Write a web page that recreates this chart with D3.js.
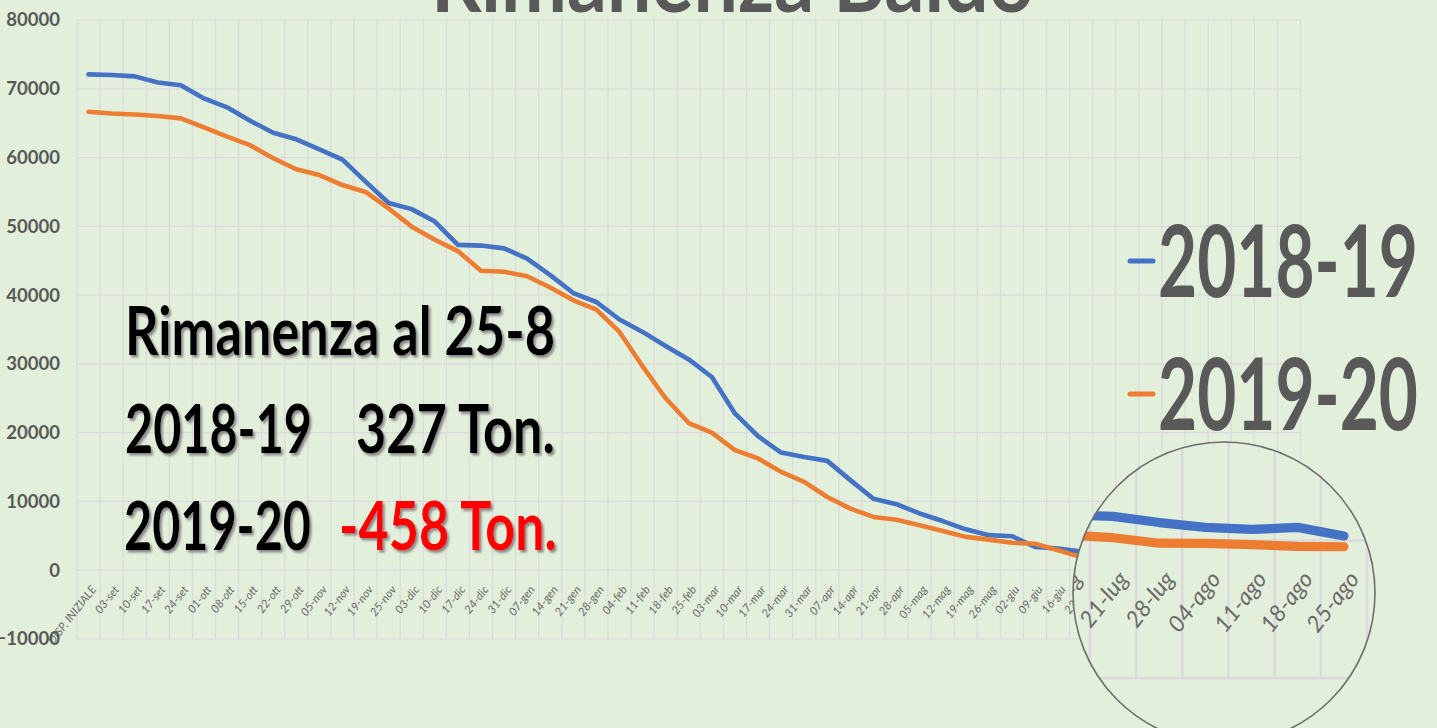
<!DOCTYPE html>
<html>
<head>
<meta charset="utf-8">
<script src="https://cdn.jsdelivr.net/npm/d3@7"></script>
<style>
html, body { margin: 0; padding: 0; background: #e2efda; overflow: hidden; }
</style>
</head>
<body>
<svg id="chart" width="1437" height="728"></svg>
<script>
// Weekly categories (first one is the starting stock)
const categories = ["DISP. INIZIALE", "03-set", "10-set", "17-set", "24-set", "01-ott", "08-ott", "15-ott", "22-ott", "29-ott",
    "05-nov", "12-nov", "19-nov", "25-nov", "03-dic", "10-dic", "17-dic", "24-dic", "31-dic", "07-gen",
    "14-gen", "21-gen", "28-gen", "04-feb", "11-feb", "18-feb", "25-feb", "03-mar", "10-mar", "17-mar",
    "24-mar", "31-mar", "07-apr", "14-apr", "21-apr", "28-apr", "05-mag", "12-mag", "19-mag", "26-mag",
    "02-giu", "09-giu", "16-giu", "23-giu", "30-giu", "07-lug", "14-lug", "21-lug", "28-lug", "04-ago",
    "11-ago", "18-ago", "25-ago"];

// Rimanenza (ton.) per season
const serie2018 = [72100, 72000, 71800, 70900, 70500, 68600, 67300, 65350, 63600, 62650,
    61200, 59700, 56500, 53400, 52500, 50700, 47300, 47200, 46800, 45300,
    42900, 40300, 39000, 36450, 34650, 32600, 30650, 28100, 22800, 19500,
    17100, 16450, 15900, 13100, 10400, 9600, 8250, 7150, 5950, 5100,
    4950, 3400, 3150, 2700, 2400, 2150, 1850, 1750, 1300, 950,
    800, 950, 327];
const serie2019 = [66650, 66400, 66250, 66050, 65700, 64400, 63050, 61800, 59900, 58300,
    57450, 56000, 55000, 52600, 49950, 48050, 46400, 43550, 43400, 42750,
    41100, 39250, 37900, 34650, 29650, 25000, 21400, 20000, 17450, 16250,
    14300, 12850, 10650, 8950, 7750, 7350, 6550, 5700, 4850, 4450,
    4000, 3850, 2900, 1900, 1300, 800, 400, 200, -200, -220,
    -300, -430, -458];

const yTicks = [-10000, 0, 10000, 20000, 30000, 40000, 50000, 60000, 70000, 80000];
const seriesNames = ["2018-19", "2019-20"];
const seriesColors = ["#4472c4", "#ed7d31"];

const bg = "#e2efda";
const gridColor = "#dcd8e0";
const plot = { left: 77, right: 1300.5, top: 20, bottom: 639 };

const svg = d3.select("#chart");

const x = d3.scaleBand().domain(categories).range([plot.left, plot.right]);
const y = d3.scaleLinear().domain([-10000, 80000]).range([plot.bottom, plot.top]);

svg.append("rect").attr("width", 1437).attr("height", 728).attr("fill", bg);

const defs = svg.append("defs");
const shadow = defs.append("filter").attr("id", "shadow")
    .attr("x", "-5%").attr("y", "-10%").attr("width", "115%").attr("height", "130%");
shadow.append("feDropShadow")
    .attr("dx", 2).attr("dy", 2.5).attr("stdDeviation", 0.8)
    .attr("flood-color", "#8a8a8a").attr("flood-opacity", 1);

// gridlines, lines and category labels; reused for the magnifier lens
function drawPlot(g){
    let edges = d3.range(categories.length + 1).map(i => plot.left + i * x.step());
    g.append("g").selectAll("line").data(edges).join("line")
        .attr("x1", d => d).attr("x2", d => d)
        .attr("y1", plot.top).attr("y2", plot.bottom)
        .attr("stroke", gridColor).attr("stroke-width", 1.2);
    g.append("g").selectAll("line").data(yTicks).join("line")
        .attr("x1", plot.left).attr("x2", plot.right)
        .attr("y1", d => y(d)).attr("y2", d => y(d))
        .attr("stroke", gridColor).attr("stroke-width", 1.2);

    g.append("g").selectAll("text").data(categories).join("text")
        .attr("transform", d => `translate(${x(d) + x.bandwidth() / 2 + 5},${y(0) + 17}) rotate(-52)`)
        .attr("text-anchor", "end")
        .attr("dy", "0.35em")
        .attr("font-family", "Lato, 'Open Sans', sans-serif")
        .attr("font-style", "italic")
        .attr("font-size", 11.5)
        .attr("fill", "#6a6a6a")
        .text(d => d);

    let line = d3.line()
        .x((d, i) => x(categories[i]) + x.bandwidth() / 2)
        .y(d => y(d));
    [serie2018, serie2019].forEach((s, k) => {
        g.append("path").datum(s)
            .attr("d", line)
            .attr("fill", "none")
            .attr("stroke", seriesColors[k])
            .attr("stroke-width", 4.6)
            .attr("stroke-linejoin", "round")
            .attr("stroke-linecap", "round");
    });
}

drawPlot(svg.append("g"));

// y axis labels
const yAxis = svg.append("g")
    .attr("transform", `translate(${plot.left},0)`)
    .call(d3.axisLeft(y).tickValues(yTicks).tickSize(0).tickPadding(17).tickFormat(d3.format("d")));
yAxis.select(".domain").remove();
yAxis.selectAll("text")
    .attr("font-family", "Lato, sans-serif")
    .attr("font-weight", "bold")
    .attr("font-size", 18.5)
    .attr("fill", "#595959");

// title (mostly above the visible area)
svg.append("text")
    .attr("x", 431).attr("y", 12)
    .attr("textLength", 603).attr("lengthAdjust", "spacingAndGlyphs")
    .attr("font-family", "Lato, sans-serif")
    .attr("font-weight", "bold")
    .attr("font-size", 88)
    .attr("fill", "#595959")
    .text("Rimanenza Baldo");

// legend
const legendY = [261, 394];
const legendBase = [297, 430];
seriesNames.forEach((name, k) => {
    svg.append("line")
        .attr("x1", 1130).attr("x2", 1153)
        .attr("y1", legendY[k]).attr("y2", legendY[k])
        .attr("stroke", seriesColors[k]).attr("stroke-width", 5)
        .attr("stroke-linecap", "round");
    svg.append("text")
        .attr("x", 1158).attr("y", legendBase[k])
        .attr("textLength", 260).attr("lengthAdjust", "spacingAndGlyphs")
        .attr("font-family", "Lato, sans-serif")
        .attr("font-weight", "bold")
        .attr("font-size", 100)
        .attr("fill", "#595959")
        .text(name);
});

// annotation block
const notes = [
    { text: "Rimanenza al 25-8", x: 125, y: 355, w: 430, color: "#000" },
    { text: "2018-19", x: 125, y: 453, w: 187, color: "#000" },
    { text: "327 Ton.", x: 356, y: 453, w: 199, color: "#000" },
    { text: "2019-20", x: 124, y: 550, w: 187, color: "#000" },
    { text: "-458 Ton.", x: 339, y: 550, w: 218, color: "#ff0000" }
];
svg.append("g").selectAll("text").data(notes).join("text")
    .attr("x", d => d.x).attr("y", d => d.y)
    .attr("textLength", d => d.w).attr("lengthAdjust", "spacingAndGlyphs")
    .attr("font-family", "Lato, sans-serif")
    .attr("font-weight", "bold")
    .attr("font-size", 67)
    .attr("fill", d => d.color)
    .attr("filter", "url(#shadow)")
    .text(d => d.text);

// magnifier lens over the last weeks
const lens = { cx: 1224, cy: 593, r: 151, k: 2, tx: -1234, ty: -600 };
defs.append("clipPath").attr("id", "lensClip")
    .append("circle").attr("cx", lens.cx).attr("cy", lens.cy).attr("r", lens.r);
const lensG = svg.append("g").attr("clip-path", "url(#lensClip)");
lensG.append("rect").attr("width", 1437).attr("height", 728).attr("fill", bg);
drawPlot(lensG.append("g").attr("transform", `translate(${lens.tx},${lens.ty}) scale(${lens.k})`));
svg.append("circle")
    .attr("cx", lens.cx).attr("cy", lens.cy).attr("r", lens.r)
    .attr("fill", "none").attr("stroke", "#6e6e6e").attr("stroke-width", 1.6);
</script>
</body>
</html>
